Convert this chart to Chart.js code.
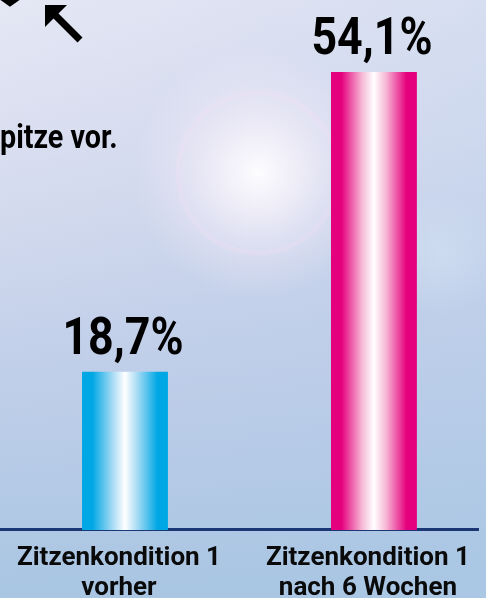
<!DOCTYPE html>
<html><head><meta charset="utf-8">
<script src="https://cdn.jsdelivr.net/npm/chart.js@4/dist/chart.umd.min.js"></script>
<style>
html,body{margin:0;padding:0;width:486px;height:598px;overflow:hidden;background:#c8d3ea;}
#wrap{position:relative;width:486px;height:606px;}
</style></head><body>
<div id="wrap"><canvas id="c"></canvas></div>
<script>
// ---- data ----
const categories = [['Zitzenkondition 1', 'vorher'], ['Zitzenkondition 1', 'nach 6 Wochen']];
const positions = [0, 1];
const values = [18.7, 54.1];
const barEdgeColors = ['#00a7e5', '#e5007d'];
const barMidColors = ['#a9dcf4', '#f6b8d5'];
const headerText = 'pitze vor.';

const FONT = 'Roboto, "Liberation Sans", sans-serif';
const fmt = v => v.toFixed(1).replace('.', ',') + '%';

function barGradient(ctx) {
  const chart = ctx.chart;
  const i = ctx.dataIndex;
  const el = chart.getDatasetMeta(ctx.datasetIndex).data[i];
  if (!el || el.x === undefined || !el.width) return barEdgeColors[i];
  const x0 = el.x - el.width / 2, x1 = el.x + el.width / 2;
  const g = chart.ctx.createLinearGradient(x0, 0, x1, 0);
  const e = barEdgeColors[i], m = barMidColors[i];
  g.addColorStop(0, e);
  g.addColorStop(0.12, e);
  g.addColorStop(0.36, m);
  g.addColorStop(0.5, '#ffffff');
  g.addColorStop(0.64, m);
  g.addColorStop(0.88, e);
  g.addColorStop(1, e);
  return g;
}

function squeezedText(ctx, text, x, y, sx, align) {
  ctx.save();
  ctx.translate(x, y);
  ctx.scale(sx, 1);
  ctx.textAlign = align;
  ctx.fillText(text, 0, 0);
  ctx.restore();
}

const bgPlugin = {
  id: 'bg',
  beforeDraw(chart) {
    const { ctx, width, height } = chart;
    ctx.save();
    const g = ctx.createLinearGradient(0, 0, 60, height);
    g.addColorStop(0, '#e5e7f4');
    g.addColorStop(0.3, '#d6dcef');
    g.addColorStop(0.6, '#c1cfe9');
    g.addColorStop(1, '#a7c5e2');
    ctx.fillStyle = g;
    ctx.fillRect(0, 0, width, height);
    const h = ctx.createLinearGradient(0, 0, width, 0);
    h.addColorStop(0, 'rgba(190,200,230,0)');
    h.addColorStop(1, 'rgba(180,205,235,0.25)');
    ctx.fillStyle = h;
    ctx.fillRect(0, 0, width, height);
    // lens flare glow
    const cx = 258, cy = 173;
    const r = ctx.createRadialGradient(cx, cy, 0, cx, cy, 125);
    r.addColorStop(0, 'rgba(255,255,255,0.95)');
    r.addColorStop(0.3, 'rgba(252,246,252,0.7)');
    r.addColorStop(0.65, 'rgba(245,236,248,0.35)');
    r.addColorStop(1, 'rgba(240,235,248,0)');
    ctx.fillStyle = r;
    ctx.fillRect(0, 0, width, height);
    ctx.strokeStyle = 'rgba(250,225,245,0.22)';
    ctx.lineWidth = 5;
    ctx.beginPath(); ctx.arc(cx, cy, 80, 0, Math.PI * 2); ctx.stroke();
    const r2 = ctx.createRadialGradient(440, 255, 0, 440, 255, 60);
    r2.addColorStop(0, 'rgba(225,240,250,0.3)');
    r2.addColorStop(1, 'rgba(225,240,250,0)');
    ctx.fillStyle = r2;
    ctx.fillRect(0, 0, width, height);
    ctx.restore();
  },
  afterDraw(chart) {
    const { ctx } = chart;
    ctx.save();
    ctx.fillStyle = '#000';
    ctx.strokeStyle = '#000';
    ctx.font = 'bold 33px ' + FONT;
    ctx.textBaseline = 'alphabetic';
    squeezedText(ctx, headerText, 0, 148, 0.87, 'left');
    // arrow
    ctx.lineWidth = 7;
    ctx.lineCap = 'butt';
    ctx.beginPath(); ctx.moveTo(80, 40); ctx.lineTo(52, 12); ctx.stroke();
    ctx.beginPath();
    ctx.moveTo(45, 5); ctx.lineTo(67, 5); ctx.lineTo(45, 27); ctx.closePath(); ctx.fill();
    // chevron fragment
    ctx.lineWidth = 6;
    ctx.beginPath(); ctx.moveTo(0, -4); ctx.lineTo(10, 3); ctx.lineTo(20, -4); ctx.stroke();
    ctx.restore();
  }
};

const valueLabelPlugin = {
  id: 'valueLabels',
  afterDatasetsDraw(chart) {
    const { ctx } = chart;
    const meta = chart.getDatasetMeta(0);
    ctx.save();
    ctx.font = 'bold 52px ' + FONT;
    ctx.fillStyle = '#000';
    ctx.textBaseline = 'alphabetic';
    meta.data.forEach((el, i) => {
      squeezedText(ctx, fmt(values[i]), el.x - 2, el.y - 18, 0.86, 'center');
    });
    ctx.restore();
  }
};

const chart = new Chart(document.getElementById('c'), {
  type: 'bar',
  data: {
    datasets: [{
      data: positions.map((p, i) => ({ x: p, y: values[i] })),
      backgroundColor: barGradient,
      borderWidth: 0,
      barPercentage: 0.345,
      categoryPercentage: 1
    }]
  },
  options: {
    responsive: true,
    maintainAspectRatio: false,
    animation: false,
    layout: { padding: { left: 0, right: 8, top: 22, bottom: 0 } },
    plugins: { legend: { display: false }, tooltip: { enabled: false } },
    scales: {
      x: {
        type: 'linear',
        offset: false,
        min: -0.502,
        max: 1.418,
        grid: { display: true, drawOnChartArea: false, drawTicks: true, tickLength: 12, color: 'rgba(0,0,0,0)', offset: false },
        border: { display: true, color: '#1a3675', width: 3 },
        afterBuildTicks: axis => { axis.ticks = positions.map(v => ({ value: v })); },
        ticks: {
          autoSkip: false,
          maxRotation: 0,
          minRotation: 0,
          padding: 2,
          labelOffset: -6,
          color: '#0a0a0a',
          font: { family: FONT, size: 26, weight: 'bold', lineHeight: 1.154 },
          callback: v => categories[positions.indexOf(v)]
        }
      },
      y: { display: false, min: 0, max: 60 }
    }
  },
  plugins: [bgPlugin, valueLabelPlugin]
});
chart.update();
</script>
</body></html>
